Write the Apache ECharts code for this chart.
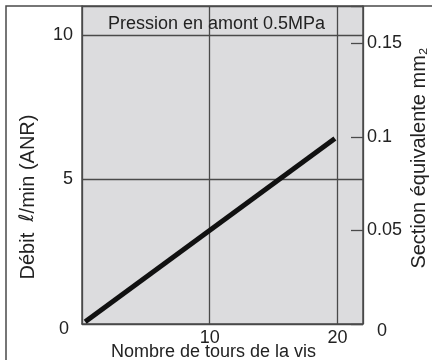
<!DOCTYPE html>
<html>
<head>
<meta charset="utf-8">
<script src="https://cdn.jsdelivr.net/npm/echarts@6/dist/echarts.min.js"></script>
<style>
  html, body { margin: 0; padding: 0; background: #fff; }
  #chart { width: 432px; height: 360px; }
</style>
</head>
<body>
<div id="chart"></div>
<script>
// values
const turns = [0.25, 19.8];
const flow = [0.08, 6.42];
const flowTicks = [0, 5, 10];
const turnTicks = [10, 20];
const sectionTicks = [0, 0.05, 0.1, 0.15];

const font = 'Liberation Sans, Arial, sans-serif';
const fs = 18;
const nameFs = 20;
const textColor = '#222';
const lineColor = '#4a4a4a';

const chart = echarts.init(document.getElementById('chart'));

const option = {
    animation: false,
    backgroundColor: '#fff',
    title: {
        text: 'Pression en amont 0.5MPa',
        left: 103,
        top: 10,
        textStyle: { fontFamily: font, fontSize: fs, fontWeight: 'normal', color: textColor }
    },
    graphic: [{
        type: 'rect',
        z: -1,
        shape: { x: 6, y: 6, width: 600, height: 600 },
        style: { fill: 'none', stroke: lineColor, lineWidth: 1.5 }
    }],
    grid: {
        left: 82,
        right: 69,
        top: 6,
        bottom: 36,
        outerBoundsMode: 'none',
        containLabel: false,
        show: true,
        backgroundColor: '#dcdcde',
        borderWidth: 0
    },
    xAxis: {
        type: 'value',
        min: 0,
        max: 22,
        interval: 10,
        name: 'Nombre de tours de la vis',
        nameLocation: 'middle',
        nameGap: 19,
        nameMoveOverlap: false,
        nameTextStyle: { fontFamily: font, fontSize: fs, color: textColor, padding: [0, 18, 0, 0] },
        axisLine: { show: true, lineStyle: { color: lineColor, width: 1.5 } },
        axisTick: { show: false },
        axisLabel: {
            margin: 5,
            fontFamily: font, fontSize: fs, color: textColor,
            formatter: v => turnTicks.includes(v) ? String(v) : ''
        },
        splitLine: { show: true, lineStyle: { color: lineColor, width: 1.3 } }
    },
    yAxis: [{
        type: 'value',
        position: 'left',
        min: 0,
        max: 11,
        interval: 5,
        name: '{a|Débit  }{b|ℓ}{a|/min (ANR)}',
        nameLocation: 'middle',
        nameRotate: 90,
        nameGap: 44,
        nameMoveOverlap: false,
        nameTextStyle: {
            padding: [0, 64, 0, 0],
            rich: {
                a: { fontFamily: font, fontSize: nameFs, color: textColor },
                b: { fontFamily: 'DejaVu Sans', fontStyle: 'italic', fontSize: nameFs, color: textColor }
            }
        },
        axisLine: { show: true, lineStyle: { color: lineColor, width: 1.5 } },
        axisTick: { show: false },
        axisLabel: {
            margin: 9,
            fontFamily: font, fontSize: fs, color: textColor,
            formatter: v => flowTicks.includes(v) ? (v === 0 ? '{z|0}' : String(v)) : '',
            rich: { z: { fontFamily: font, fontSize: fs, color: textColor, padding: [10, 4, 0, 0] } }
        },
        splitLine: { show: true, lineStyle: { color: lineColor, width: 1.3 } }
    }, {
        type: 'value',
        position: 'right',
        min: 0,
        max: 0.17,
        interval: 0.05,
        name: 'Section équivalente mm₂',
        nameLocation: 'middle',
        nameRotate: 90,
        nameGap: 46,
        nameMoveOverlap: false,
        nameTextStyle: { fontFamily: font, fontSize: nameFs, color: textColor, padding: [0, 0, 0, 14] },
        axisLine: { show: true, lineStyle: { color: lineColor, width: 1.5 } },
        axisTick: { show: true, inside: true, length: 12, lineStyle: { color: lineColor, width: 1.3 } },
        axisLabel: {
            margin: 4,
            fontFamily: font, fontSize: fs, color: textColor,
            formatter: v => {
                const r = +v.toFixed(2);
                if (!sectionTicks.includes(r) || Math.abs(v - r) > 1e-6) return '';
                return r === 0 ? '{z|0}' : String(r);
            },
            rich: { z: { fontFamily: font, fontSize: fs, color: textColor, padding: [14, 0, 0, 10] } }
        },
        splitLine: { show: false }
    }],
    series: [{
        type: 'line',
        yAxisIndex: 0,
        data: turns.map((t, i) => [t, flow[i]]),
        symbol: 'none',
        lineStyle: { color: '#111', width: 5, cap: 'butt' },
        z: 5
    }]
};

chart.setOption(option);
</script>
</body>
</html>
